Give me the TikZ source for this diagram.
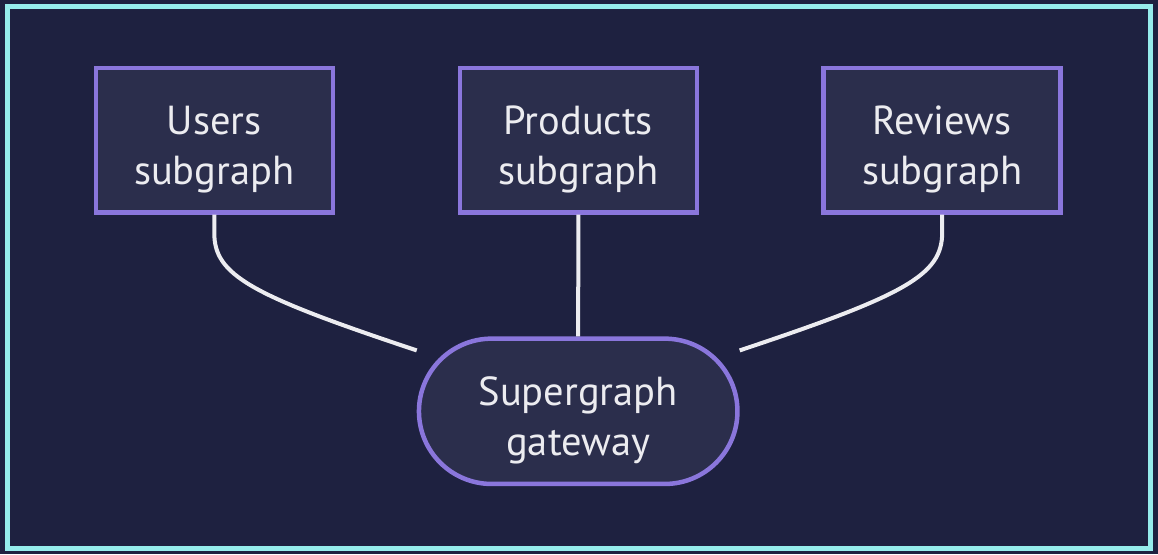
\documentclass[tikz,border=0pt]{standalone}
\usepackage{fontspec}
\setmainfont{PT Sans}
\usetikzlibrary{shapes.misc}

\definecolor{bgnavy}{HTML}{1E2140}
\definecolor{framecyan}{HTML}{96ECEC}
\definecolor{boxfill}{HTML}{2B2E4C}
\definecolor{boxline}{HTML}{8A76DC}
\definecolor{linkline}{HTML}{ECECF0}
\definecolor{labeltext}{HTML}{ECECF0}

\tikzset{
  subbox/.style={draw=boxline, fill=boxfill, line width=4.5pt, inner sep=0pt,
    minimum width=237pt, minimum height=144.5pt, text=labeltext, align=center,
    font=\fontsize{40.5}{50}\selectfont, text height=88pt, text depth=0pt},
  gatebox/.style={subbox, rounded rectangle, minimum width=318.5pt, minimum height=145.3pt},
  link/.style={draw=linkline, line width=4pt}
}

\begin{document}
\begin{tikzpicture}[x=1pt,y=-1pt]
        \fill[bgnavy] (0,0) rectangle (1158,554);
        \draw[framecyan, line width=5pt] (7.5,6) rectangle (1150.5,548);
        \useasboundingbox (0,0) rectangle (1158,554);

        % subgraphs
        \node[subbox] (users)    at (214.3,140.2) {Users\\subgraph};
        \node[subbox] (products) at (578.3,140.2) {Products\\subgraph};
        \node[subbox] (reviews)  at (942.2,140.2) {Reviews\\subgraph};

        % gateway
        \node[gatebox] (gateway) at (578.2,411.3) {Supergraph\\gateway};

        \coordinate (gwleft)  at ([yshift=-14pt]gateway.west |- gateway.north);
        \coordinate (gwright) at ([yshift=-14pt]gateway.east |- gateway.north);

        \draw[link] (users.south) -- ++(0,18) .. controls (214,275) and (250,295) .. (gwleft);
        \draw[link] (products.south) -- (gateway.north);
        \draw[link] (reviews.south) -- ++(0,18) .. controls (942,275) and (906,295) .. (gwright);
\end{tikzpicture}
\end{document}
